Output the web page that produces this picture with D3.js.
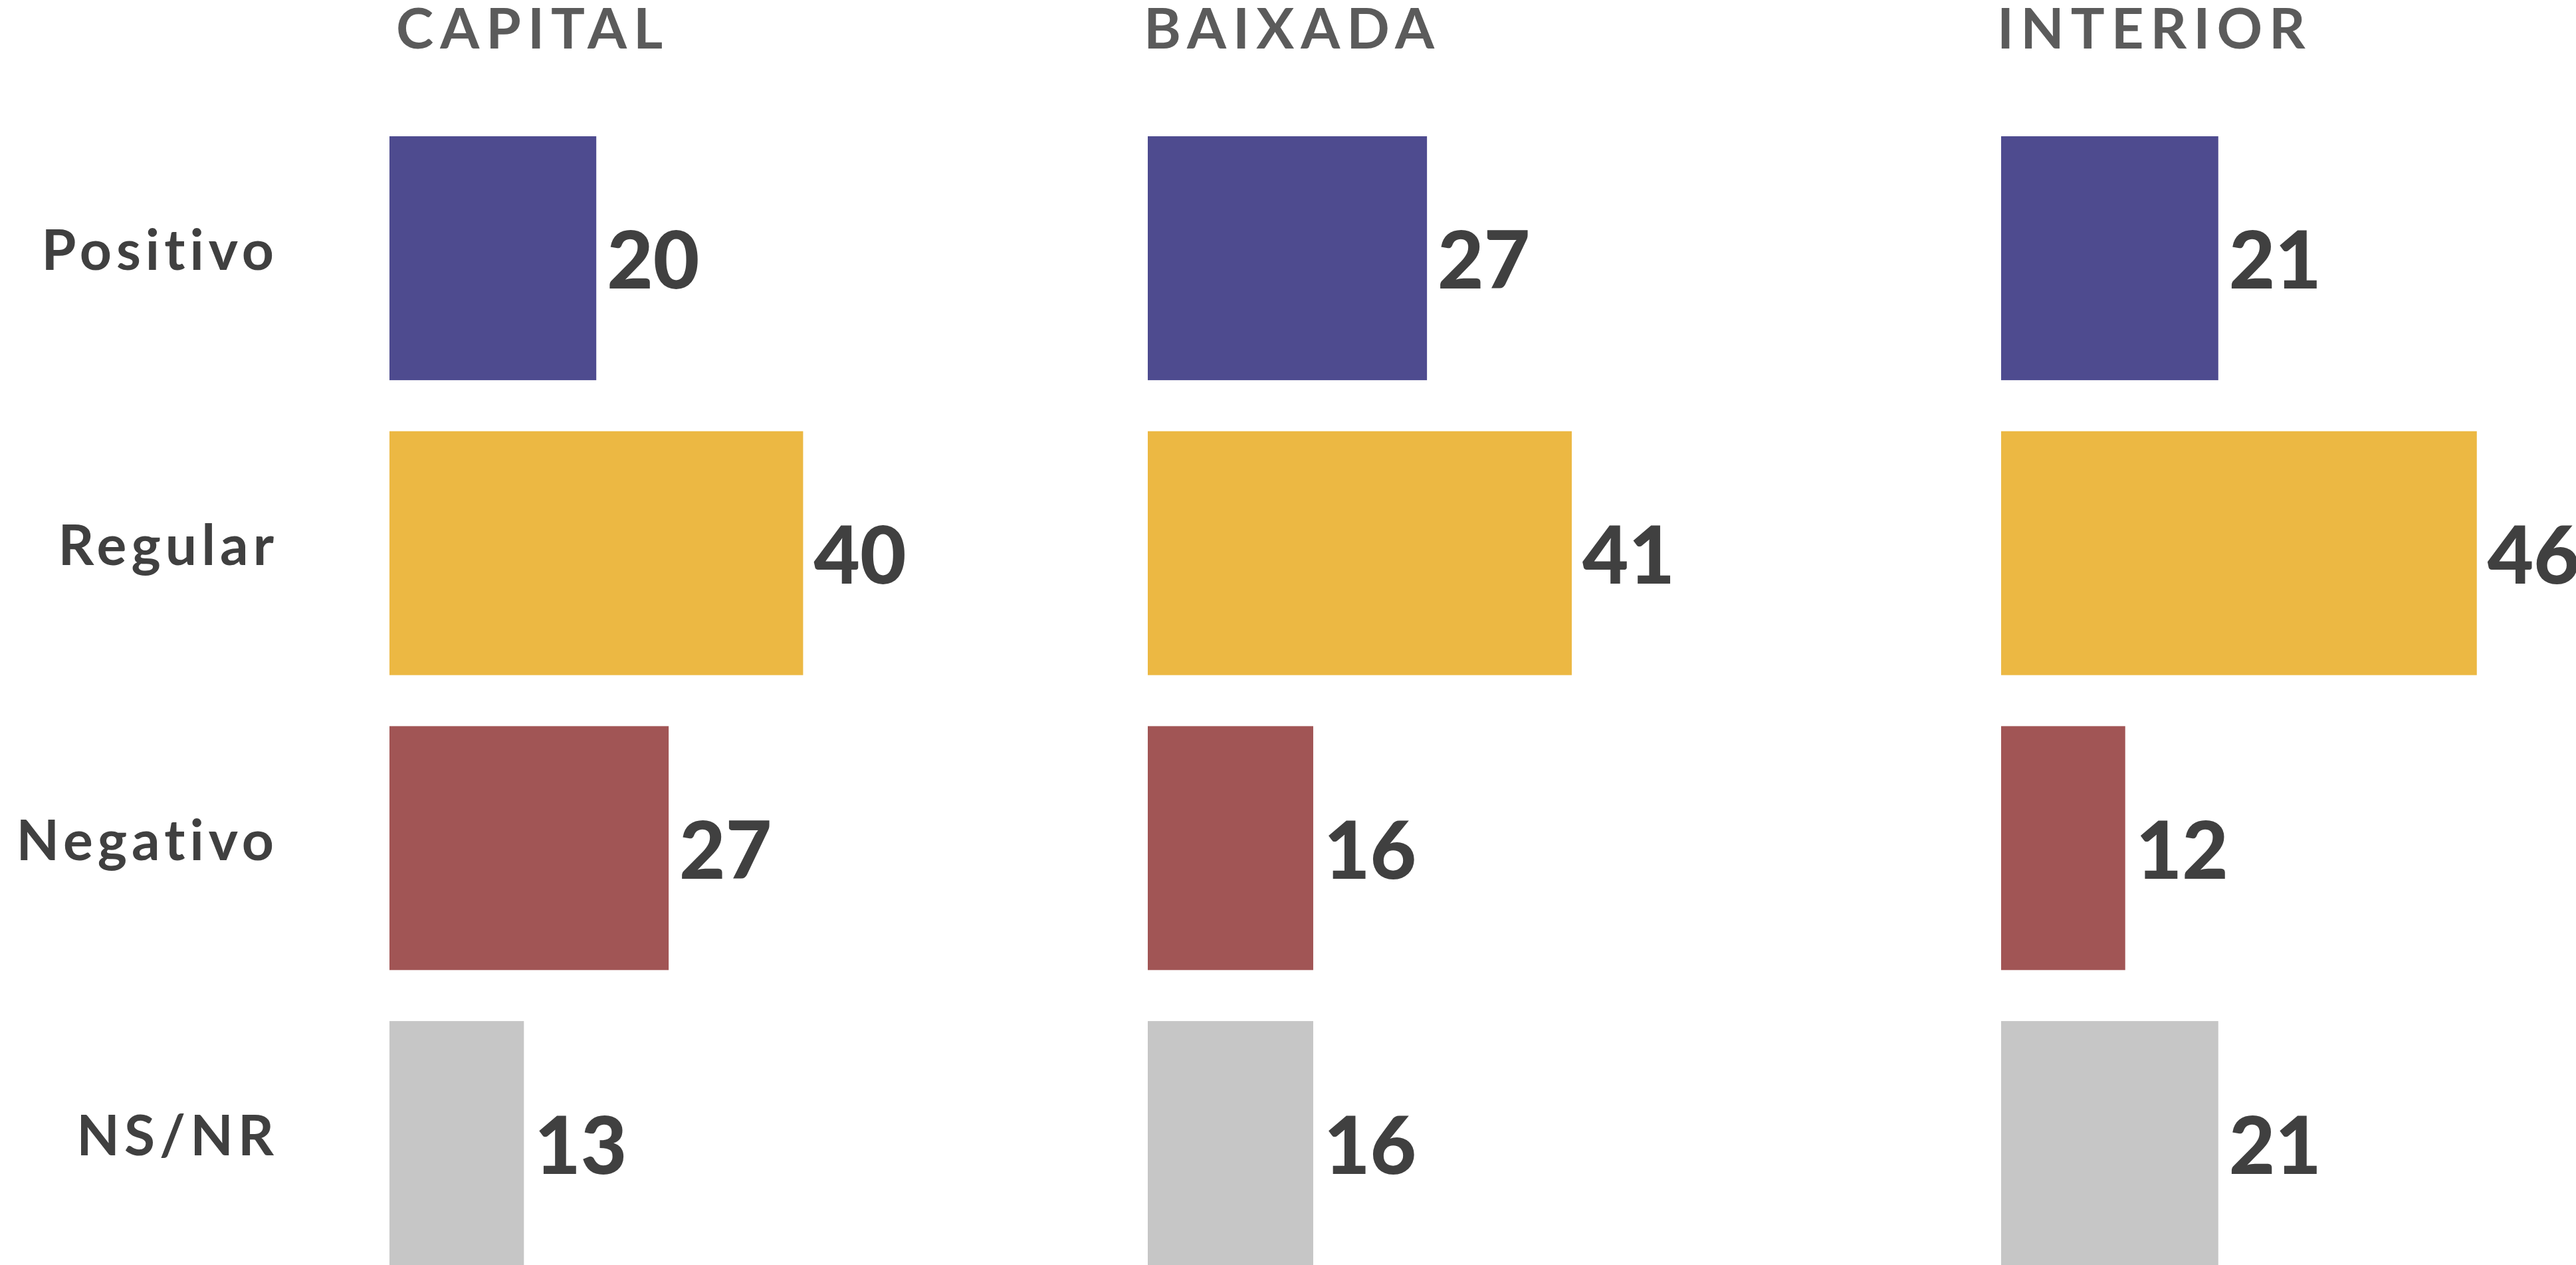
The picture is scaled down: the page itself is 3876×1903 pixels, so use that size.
<!DOCTYPE html>
<html>
<head>
<meta charset="utf-8">
<script src="https://cdn.jsdelivr.net/npm/d3@7"></script>
<style>
  html, body { margin: 0; padding: 0; background: #fff; overflow: hidden; }
</style>
</head>
<body>
<div id="chart"></div>
<script>
var regions = ["CAPITAL", "BAIXADA", "INTERIOR"];
var categories = ["Positivo", "Regular", "Negativo", "NS/NR"];
var capital = [20, 40, 27, 13];
var baixada = [27, 41, 16, 16];
var interior = [21, 46, 12, 21];
var colors = ["#4e4b8f", "#ecb843", "#a15555", "#c6c6c6"];

var width = 3876,
    height = 1903;

var series = [capital, baixada, interior];

var svg = d3.select("#chart")
    .append("svg")
    .attr("width", width)
    .attr("height", height);

// left edge of each panel
var panelX = d3.scaleOrdinal()
    .domain(regions)
    .range([586, 1727, 3011]);

var x = d3.scaleLinear()
    .domain([0, 100])
    .range([0, 1556]);

var y = d3.scaleBand()
    .domain(categories)
    .range([205, 1903])
    .paddingInner(0.173)
    .paddingOuter(0);

var color = d3.scaleOrdinal()
    .domain(categories)
    .range(colors);

// row labels
svg.append("g")
    .selectAll("text")
    .data(categories)
    .join("text")
    .attr("x", 419)
    .attr("y", d => y(d) + y.bandwidth() / 2 + 18)
    .attr("text-anchor", "end")
    .attr("font-family", "Lato, sans-serif")
    .attr("font-weight", 700)
    .attr("font-size", 84)
    .attr("letter-spacing", 7)
    .attr("fill", "#404040")
    .text(d => d);

regions.forEach(function (region, i) {
    var rows = categories.map((c, j) => ({ cat: c, value: series[i][j] }));

    var g = svg.append("g")
        .attr("transform", "translate(" + panelX(region) + ",0)");

    g.append("text")
        .attr("x", i === 0 ? 10 : -6)
        .attr("y", 73)
        .attr("font-family", "Lato, sans-serif")
        .attr("font-weight", 700)
        .attr("font-size", 85)
        .attr("letter-spacing", 10)
        .attr("fill", "#5b5b5b")
        .text(region);

    g.selectAll("rect")
        .data(rows)
        .join("rect")
        .attr("x", x(0))
        .attr("y", d => y(d.cat))
        .attr("width", d => x(d.value) - x(0))
        .attr("height", y.bandwidth())
        .attr("fill", d => color(d.cat));

    g.selectAll(".val")
        .data(rows)
        .join("text")
        .attr("class", "val")
        .attr("x", d => x(d.value) + 16)
        .attr("y", d => y(d.cat) + y.bandwidth() / 2 + 46)
        .attr("font-family", "Lato, sans-serif")
        .attr("font-weight", 900)
        .attr("font-size", 120)
        .attr("fill", "#404040")
        .text(d => d.value);
});
</script>
</body>
</html>
